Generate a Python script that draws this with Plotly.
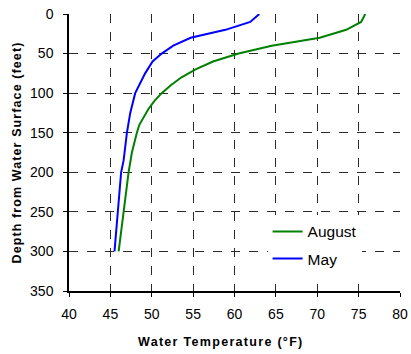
import plotly.graph_objects as go

aug_depth = [0, 10, 20, 30, 40, 50, 60, 70, 80, 90, 100, 110, 120, 130, 140, 150, 175, 200, 250, 300]
aug_temp = [75.8, 75.3, 73.5, 70.3, 64.5, 60.5, 57.4, 55.3, 53.6, 52.3, 51.2, 50.3, 49.6, 49.0, 48.5, 48.2, 47.6, 47.2, 46.6, 46.0]

may_depth = [0, 10, 20, 30, 40, 50, 60, 75, 100, 125, 150, 185, 200, 250, 300]
may_temp = [63.0, 61.9, 58.9, 54.7, 52.6, 51.2, 50.1, 49.2, 48.0, 47.4, 47.0, 46.6, 46.3, 45.9, 45.5]

x_ticks = [40, 45, 50, 55, 60, 65, 70, 75, 80]
y_ticks = [0, 50, 100, 150, 200, 250, 300, 350]

x_title = "Water Temperature (°F)"
y_title = "Depth from Water Surface (feet)"

font = "Liberation Sans, Arial, sans-serif"

fig = go.Figure()
fig.add_trace(go.Scatter(x=aug_temp, y=aug_depth, mode="lines", name="August",
                         line=dict(color="#008000", width=2), legendgroup="a"))
fig.add_trace(go.Scatter(x=may_temp, y=may_depth, mode="lines", name="May",
                         line=dict(color="#0000FF", width=2), legendgroup="b"))

fig.add_annotation(text="<span style='letter-spacing:1.3px'><b>" + x_title + "</b></span>",
                   xref="paper", yref="paper", x=0.459, y=-0.184,
                   xanchor="center", yanchor="middle", showarrow=False,
                   font=dict(size=12.5, family=font, color="black"))

fig.update_layout(
    width=411, height=354,
    margin=dict(l=69, r=11, t=14, b=63),
    paper_bgcolor="white", plot_bgcolor="white",
    font=dict(family=font, size=13, color="black"),
    showlegend=True,
    legend=dict(x=0.6, y=0.275, xanchor="left", yanchor="top",
                bgcolor="white", borderwidth=0, tracegroupgap=4,
                font=dict(size=15.5, family=font)),
    xaxis=dict(range=[40, 80], tickvals=x_ticks, showgrid=True, automargin=False,
               gridcolor="#2a2a2a", griddash="dash", gridwidth=1,
               showline=True, linecolor="black", linewidth=1.5,
               ticks="outside", ticklen=4, tickcolor="black", zeroline=False,
               tickfont=dict(size=14), ticklabelstandoff=5),
    yaxis=dict(range=[350, 0], tickvals=y_ticks, showgrid=True, automargin=False,
               gridcolor="#2a2a2a", griddash="dash", gridwidth=1,
               showline=True, linecolor="black", linewidth=1.5,
               ticks="outside", ticklen=4, tickcolor="black", zeroline=False,
               tickfont=dict(size=14), ticklabelstandoff=7,
               title=dict(text="<span style='letter-spacing:1.1px'><b>" + y_title + "</b></span>",
                          font=dict(size=12.5), standoff=6)),
)

fig.write_html("out.html", config={"displayModeBar": False},
               post_script="document.body.style.margin='0';")
